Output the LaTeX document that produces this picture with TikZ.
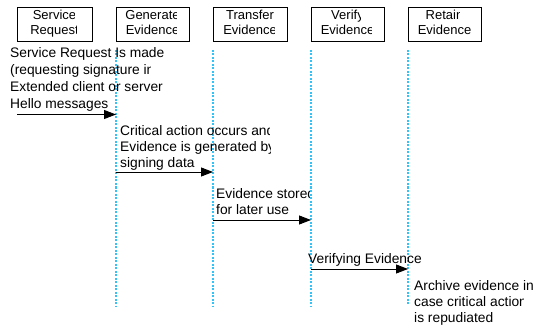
\documentclass[tikz,border=0pt]{standalone}
\usepackage{fontspec}
\setmainfont{Liberation Sans}
\usetikzlibrary{arrows.meta}
\definecolor{lifeblue}{RGB}{50,196,248}
% one line of text, clipped on the right at a given x
% #1 style, #2 name, #3 x, #4 baseline y, #5 clip right, #6 text
\newcommand\txtline[6]{%
  \begin{scope}
    \clip (#3-60,#4-20) rectangle (#5,#4+6);
    \node[#1] (#2) at (#3,#4) {#6};
  \end{scope}}
\begin{document}
\begin{tikzpicture}[x=1pt,y=-1pt,
  actor/.style={draw, line width=0.9pt, minimum width=74pt, minimum height=34pt,
                inner sep=0pt, anchor=north west},
  boxtext/.style={anchor=base, inner sep=0pt, font=\fontsize{13}{15}\selectfont},
  msgtext/.style={anchor=base west, inner sep=0pt, font=\fontsize{13.8}{16}\selectfont},
  lifeline/.style={draw=lifeblue, line width=1.1pt, dash pattern=on 2pt off 1.5pt},
  msg/.style={line width=0.9pt, -{Triangle[length=12pt,width=9pt]}}]
\useasboundingbox (0,0) rectangle (533,326);

% participants
\node[actor, minimum width=75pt] (svc)  at (17,7)  {};
\node[actor, minimum width=73pt] (gen)  at (116,7) {};
\node[actor]                     (xfer) at (213,7) {};
\node[actor, minimum width=73pt] (ver)  at (311,7) {};
\node[actor, minimum width=73pt] (ret)  at (408,7) {};

\txtline{boxtext}{svcA}{54.5}{19.5}{74.5}{Service}
\txtline{boxtext}{svcB}{54.5}{35}{76.5}{Request}
\txtline{boxtext}{genA}{152.5}{19.5}{176}{Generate}
\txtline{boxtext}{genB}{152.5}{35}{176}{Evidence}
\txtline{boxtext}{xferA}{250}{19.5}{274.5}{Transfer}
\txtline{boxtext}{xferB}{250}{35}{274}{Evidence}
\txtline{boxtext}{verA}{347.5}{19.5}{360.5}{Verify}
\txtline{boxtext}{verB}{347.5}{35}{371.5}{Evidence}
\txtline{boxtext}{retA}{444.5}{19.5}{459}{Retain}
\txtline{boxtext}{retB}{444.5}{35}{470.5}{Evidence}

% lifelines
\coordinate (genTop)  at (116,50); \coordinate (genBot)  at (116,307);
\coordinate (xferTop) at (213,50); \coordinate (xferBot) at (213,307);
\coordinate (verTop)  at (311,50); \coordinate (verBot)  at (311,307);
\coordinate (retTop)  at (408,50); \coordinate (retBot)  at (408,304);
\draw[lifeline] (genTop) -- (genBot);
\draw[lifeline] (xferTop) -- (xferBot);
\draw[lifeline] (verTop) -- (verBot);
\draw[lifeline] (retTop) -- (retBot);

% messages
\coordinate (m1s) at (17,114.5);  \coordinate (m1e) at (116,114.5);
\coordinate (m2s) at (116,172);   \coordinate (m2e) at (213,172);
\coordinate (m3s) at (213,220);   \coordinate (m3e) at (311,220);
\coordinate (m4s) at (311,269);   \coordinate (m4e) at (408,269);
\draw[msg] (m1s) -- (m1e);
\draw[msg] (m2s) -- (m2e);
\draw[msg] (m3s) -- (m3e);
\draw[msg] (m4s) -- (m4e);

% message labels
\txtline{msgtext}{tA1}{10}{57.5}{163}{Service Request Is made}
\txtline{msgtext}{tA2}{10}{74.5}{150}{(requesting signature in}
\txtline{msgtext}{tA3}{10}{91.5}{166}{Extended client or server}
\txtline{msgtext}{tA4}{10}{108.5}{200}{Hello messages}

\txtline{msgtext}{tB1}{120}{136}{269.5}{Critical action occurs and}
\txtline{msgtext}{tB2}{120}{152}{270}{Evidence is generated by}
\txtline{msgtext}{tB3}{120}{167.5}{300}{signing data}

\txtline{msgtext}{tC1}{216}{199}{309.5}{Evidence stored}
\txtline{msgtext}{tC2}{216}{214.5}{400}{for later use}

\txtline{msgtext}{tD1}{308}{263}{533}{Verifying Evidence}

\txtline{msgtext}{tE1}{414}{290}{533}{Archive evidence in}
\txtline{msgtext}{tE2}{414}{306}{523}{case critical action}
\txtline{msgtext}{tE3}{414}{322}{533}{is repudiated}
\end{tikzpicture}
\end{document}
